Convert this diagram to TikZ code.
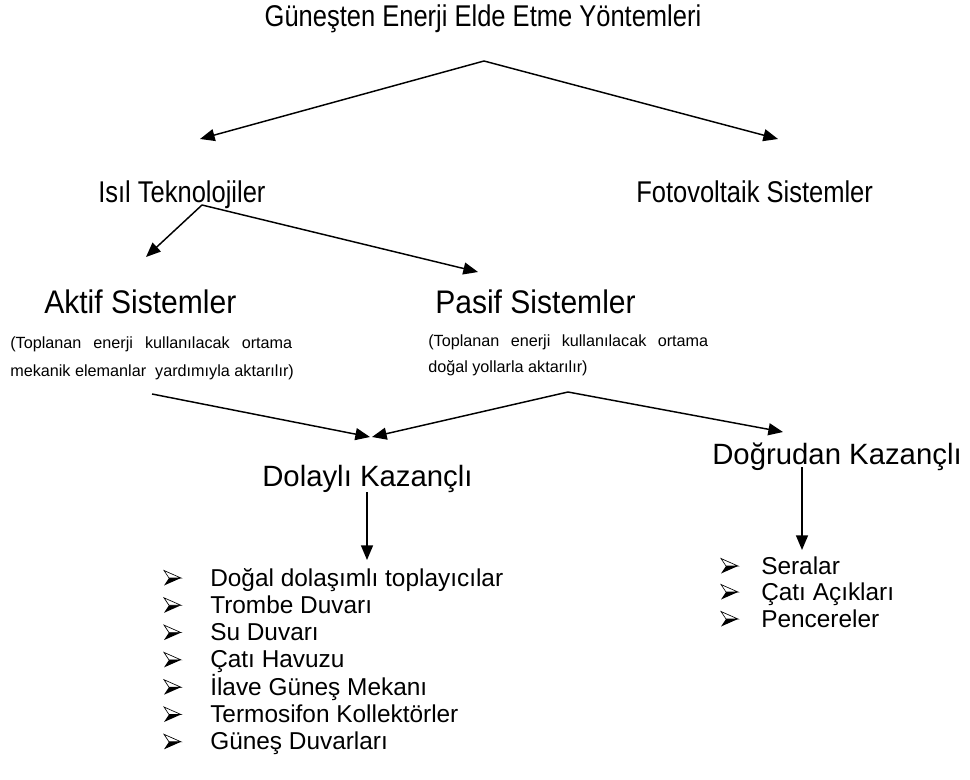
\documentclass[tikz,border=0pt]{standalone}
\usepackage{fontspec}
\setmainfont{Liberation Sans}
\newfontfamily\narrowfont[FakeStretch=0.85]{Liberation Sans}
\newfontfamily\sysfont[FakeStretch=0.92]{Liberation Sans}
\usetikzlibrary{arrows.meta}
\begin{document}
\begin{tikzpicture}[x=0.75pt,y=-0.75pt,
  arr/.style={line width=1.1pt,-{Triangle[length=11pt,width=9pt]}},
  txt/.style={inner sep=0pt,anchor=base west},
  toptxt/.style={txt,font=\narrowfont\fontsize{22.5pt}{27pt}\selectfont},
  systxt/.style={txt,font=\sysfont\fontsize{24.5pt}{29pt}\selectfont},
  smalltxt/.style={txt,font=\fontsize{12.15pt}{14pt}\selectfont},
  headtxt/.style={txt,font=\fontsize{22pt}{26pt}\selectfont},
  listtxt/.style={txt,font=\fontsize{18.3pt}{22pt}\selectfont},
  pics/bul/.style={code={
    \filldraw[fill=white,draw=black,line width=0.5pt,line join=miter] (0,-7.5) -- (17,0) -- (5,0) -- cycle;
    \fill[black] (5,0) -- (17,0) -- (0,7.5) -- cycle;
  }}
]
\useasboundingbox (0,0) rectangle (970,780);

% top level
\node[toptxt,anchor=base] (title) at (483,27) {Güneşten Enerji Elde Etme Yöntemleri};
\node[toptxt] (isil) at (98,203) {Isıl Teknolojiler};
\node[toptxt] (foto) at (636,203) {Fotovoltaik Sistemler};

\coordinate (ap1) at (484,61);
\coordinate (t1) at (200,139);
\coordinate (t2) at (778,139);
\draw[arr] (ap1) -- (t1);
\draw[arr] (ap1) -- (t2);

\coordinate (ap2) at (202,205);
\coordinate (t3) at (146,257);
\coordinate (t4) at (478,272);
\draw[arr] (ap2) -- (t3);
\draw[arr] (ap2) -- (t4);

% systems
\node[systxt] (aktif) at (44,314) {Aktif Sistemler};
\node[systxt] (pasif) at (435,314) {Pasif Sistemler};

\node[smalltxt] (ak1) at (10,349) {\makebox[211.5pt][s]{(Toplanan enerji kullanılacak ortama}};
\node[smalltxt] (ak2) at (10,376) {mekanik elemanlar\ \ yardımıyla aktarılır)};
\node[smalltxt] (pa1) at (428,346) {\makebox[210pt][s]{(Toplanan enerji kullanılacak ortama}};
\node[smalltxt] (pa2) at (428,373) {doğal yollarla aktarılır)};

\coordinate (s1) at (152,394);
\coordinate (t5) at (370,437);
\coordinate (ap3) at (568,392);
\coordinate (t6) at (372,437);
\coordinate (t7) at (783,432);
\draw[arr] (s1) -- (t5);
\draw[arr] (ap3) -- (t6);
\draw[arr] (ap3) -- (t7);

% gain types
\node[headtxt] (dolayli) at (262,486) {Dolaylı Kazançlı};
\node[headtxt] (dogrudan) at (712,464) {Doğrudan Kazançlı};

\coordinate (d1) at (367,492);
\coordinate (d2) at (367,560);
\draw[arr] (d1) -- (d2);
\coordinate (e1) at (802,467);
\coordinate (e2) at (802,550);
\draw[arr] (e1) -- (e2);

% left list
\foreach \t [count=\i from 0] in {Doğal dolaşımlı toplayıcılar,Trombe Duvarı,Su Duvarı,Çatı Havuzu,İlave Güneş Mekanı,Termosifon Kollektörler,Güneş Duvarları}{
  \pgfmathsetmacro{\yy}{586+27.3*\i}
  \node[listtxt] (L\i) at (210,\yy) {\t};
  \pic at (164,\yy-8) {bul};
}

% right list
\foreach \t/\yy [count=\i] in {Seralar/574,Çatı Açıkları/600,Pencereler/627}{
  \node[listtxt] (R\i) at (761,\yy) {\t};
  \pic at (721,\yy-8) {bul};
}
\end{tikzpicture}
\end{document}
